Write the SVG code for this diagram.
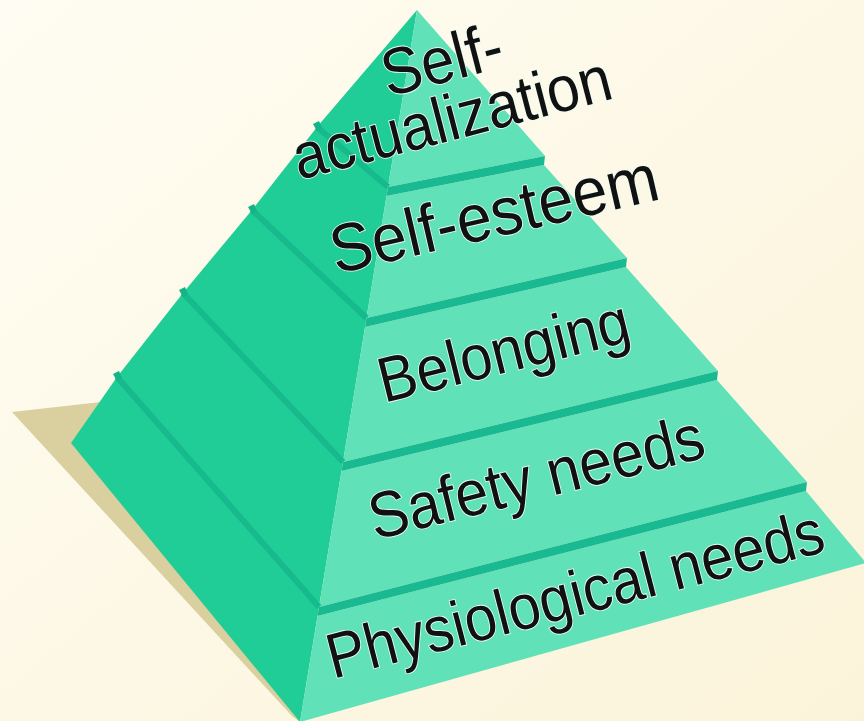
<svg xmlns="http://www.w3.org/2000/svg" width="864" height="721" viewBox="0 0 864 721">
<defs>
<linearGradient id="bg" x1="0" y1="0" x2="1" y2="1">
<stop offset="0" stop-color="#fffdf3"/>
<stop offset="1" stop-color="#fbf3d9"/>
</linearGradient>
<style>
.lf{fill:#20cd97;}
.rf{fill:#60e1b8;}
.ledge{fill:#19b992;}
.lline{stroke:#16ba8c;stroke-width:6;fill:none;stroke-linecap:butt;}
.notch{fill:#14b488;}
.lbl{font-family:"Liberation Sans","Arial",sans-serif;fill:#111;stroke:#e9fff6;stroke-width:1.6;paint-order:stroke;}
</style>
</defs>
<rect width="864" height="721" fill="url(#bg)"/>
<polygon id="shadow" points="12,412 110,401 300,722 292,716" fill="#d9cf9f"/>
<g id="connectors"></g>
<g id="level-physiological">
<polygon class="lf" points="117,377 71,443 300,722 319,607"/>
<polygon class="rf" points="317.5,616 806,491 866,563 300,722"/>
<text class="lbl" font-size="59" transform="translate(333,679) rotate(-14.5) scale(0.98,1.08)">Physiological needs</text>
</g>
<g id="level-safety">
<polygon class="lf" points="183,293 117,377 319,607 343,462"/>
<polygon class="rf" points="341.5,471 717,380 807,482 319,607"/>
<polygon class="ledge" points="319,607 807,482 806,491 317.5,616"/>
<line class="lline" x1="117" y1="377" x2="319" y2="607"/>
<polygon class="notch" points="113,374 119,371 122,378 117,381"/>
<text class="lbl" font-size="60" transform="translate(375,540) rotate(-14) scale(0.98,1.08)">Safety needs</text>
</g>
<g id="level-belonging">
<polygon class="lf" points="252,210 183,293 343,462 366.5,318"/>
<polygon class="rf" points="365,327 626,267 718,371 343,462"/>
<polygon class="ledge" points="343,462 718,371 717,380 341.5,471"/>
<line class="lline" x1="183" y1="293" x2="343" y2="462"/>
<polygon class="notch" points="179,290 185,287 188,294 183,297"/>
<text class="lbl" font-size="59" transform="translate(384,403) rotate(-14) scale(0.98,1.08)">Belonging</text>
</g>
<g id="level-self-esteem">
<polygon class="lf" points="317,127 252,210 366.5,318 388,187"/>
<polygon class="rf" points="386.5,196 544,165 627,258 366.5,318"/>
<polygon class="ledge" points="366.5,318 627,258 626,267 365,327"/>
<line class="lline" x1="252" y1="210" x2="366.5" y2="318"/>
<polygon class="notch" points="248,207 254,204 257,211 252,214"/>
<text class="lbl" font-size="64" transform="translate(336,274) rotate(-13) scale(0.98,1.06)">Self-esteem</text>
</g>
<g id="level-self-actualization">
<polygon class="lf" points="417,10 317,127 388,187"/>
<polygon class="rf" points="417,10 545,156 388,187"/>
<polygon class="ledge" points="388,187 545,156 544,165 386.5,196"/>
<line class="lline" x1="317" y1="127" x2="388" y2="187"/>
<polygon class="notch" points="313,124 319,121 322,128 317,131"/>
<text class="lbl" font-size="61" transform="translate(388,97) rotate(-14.5) scale(0.98,1.08)">Self-</text>
<text class="lbl" font-size="60" transform="translate(299,180) rotate(-14.5) scale(0.98,1.08)">actualization</text>
</g>
</svg>
